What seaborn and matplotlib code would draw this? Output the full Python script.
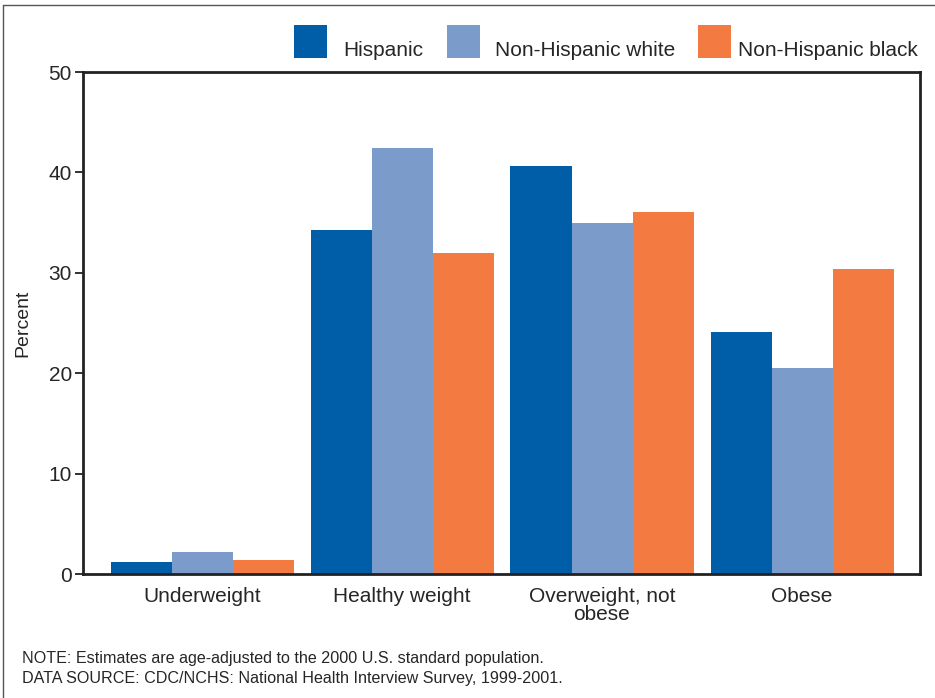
import matplotlib
matplotlib.use("Agg")
import matplotlib.pyplot as plt
import seaborn as sns
import pandas as pd
from matplotlib.patches import Rectangle
from matplotlib.lines import Line2D

categories = ["Underweight", "Healthy weight", "Overweight, not\nobese", "Obese"]
groups = ["Hispanic", "Non-Hispanic white", "Non-Hispanic black"]
hispanic = [1.2, 34.3, 40.6, 24.1]
nh_white = [2.2, 42.4, 35.0, 20.5]
nh_black = [1.4, 32.0, 36.1, 30.4]
colors = ["#005EA8", "#7B9BCB", "#F37A40"]
yticks = [0, 10, 20, 30, 40, 50]

rows = []
for g, vals in zip(groups, [hispanic, nh_white, nh_black]):
    for c, v in zip(categories, vals):
        rows.append({"category": c, "group": g, "value": v})
df = pd.DataFrame(rows)

sns.set_style("white")
plt.rcParams["font.family"] = ["Liberation Sans", "DejaVu Sans"]

W, H = 935, 698
fig = plt.figure(figsize=(W / 100, H / 100), dpi=100)
ax = fig.add_axes([83 / W, 1 - 574 / H, (920 - 83) / W, (574 - 72) / H])

sns.barplot(data=df, x="category", y="value", hue="group", order=categories,
            hue_order=groups, palette=colors, width=0.915, saturation=1,
            legend=False, ax=ax, linewidth=0)

ax.set_xlim(-0.595, 3.59)
ax.set_ylim(0, 50)
ax.set_yticks(yticks)
ax.set_yticklabels([str(t) for t in yticks], fontsize=15)
ax.tick_params(axis="y", direction="out", length=6, width=1.3, color="#222222", pad=2, left=True)
ax.tick_params(axis="x", length=0, pad=9, labelsize=15)
for lab in ax.get_xticklabels():
    lab.set_linespacing(1.0)
ax.set_xlabel("")
ax.set_ylabel("Percent", fontsize=14, labelpad=12)
for s in ax.spines.values():
    s.set_visible(True)
    s.set_linewidth(2)
    s.set_color("#222222")

# legend drawn manually in figure pixel coords
def px(x, y):
    return x / W, 1 - y / H

leg = [(294, 447, 698), (343, 495, 738)]
for i, g in enumerate(groups):
    x0 = leg[0][i]
    fig.patches.append(Rectangle(px(x0, 58), 33 / W, 33 / H, transform=fig.transFigure,
                                 facecolor=colors[i], edgecolor="none"))
    fig.text(*px(leg[1][i], 51), g, fontsize=15, va="center", ha="left")

# outer frame lines
fig.lines.append(Line2D([3 / W, 1], [1 - 5 / H, 1 - 5 / H], transform=fig.transFigure,
                        color="#555555", linewidth=1))
fig.lines.append(Line2D([3 / W, 3 / W], [0, 1 - 5 / H], transform=fig.transFigure,
                        color="#555555", linewidth=1))

fig.text(*px(22, 659), "NOTE: Estimates are age-adjusted to the 2000 U.S. standard population.",
         fontsize=11.6, va="center", ha="left")
fig.text(*px(22, 678), "DATA SOURCE: CDC/NCHS: National Health Interview Survey, 1999-2001.",
         fontsize=11.6, va="center", ha="left")

fig.savefig("out.png", dpi=100)
